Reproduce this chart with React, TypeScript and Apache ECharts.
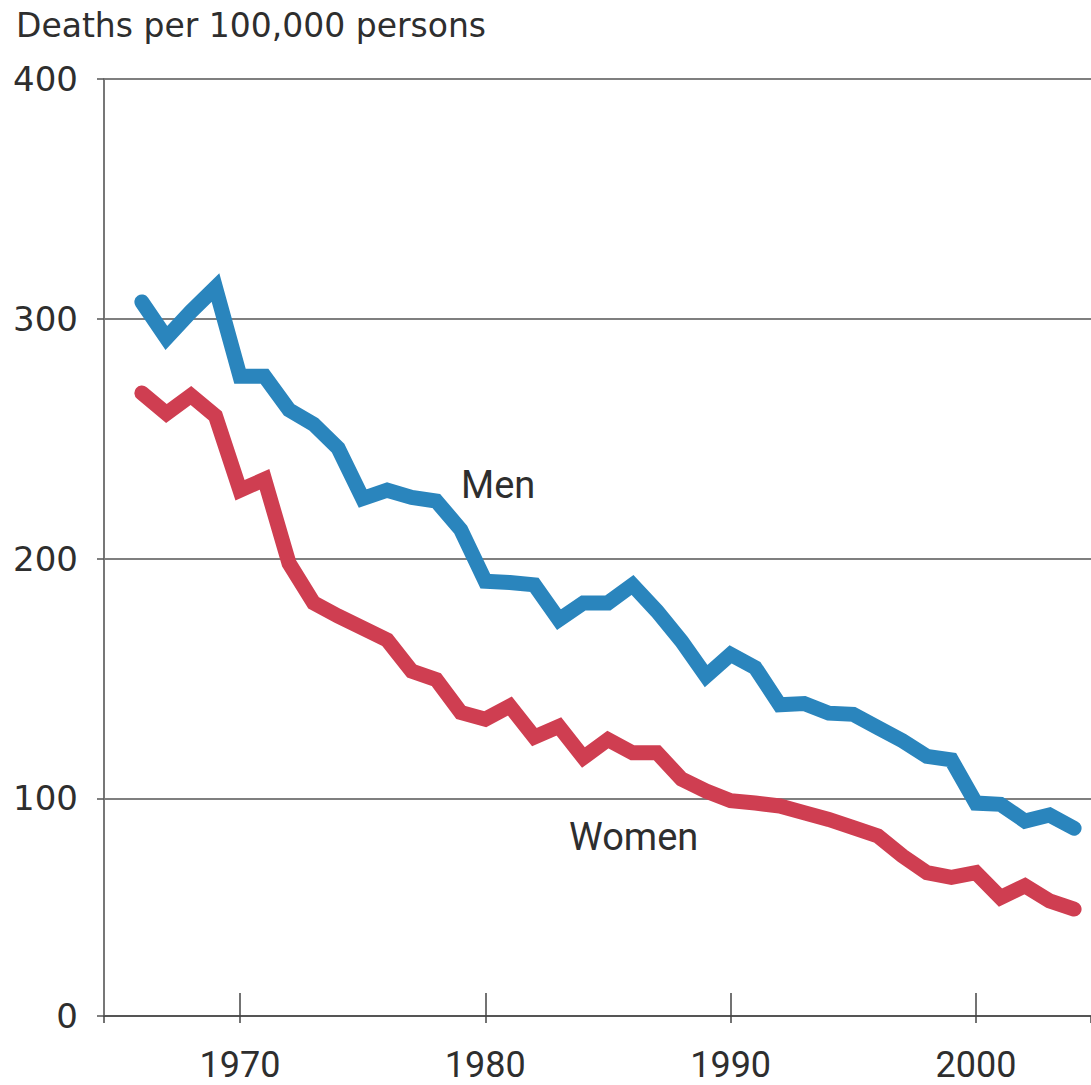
import React, { useEffect, useRef } from "react";
import * as echarts from "echarts";

const years = [
  1966, 1967, 1968, 1969, 1970, 1971, 1972, 1973, 1974, 1975, 1976, 1977, 1978,
  1979, 1980, 1981, 1982, 1983, 1984, 1985, 1986, 1987, 1988, 1989, 1990, 1991,
  1992, 1993, 1994, 1995, 1996, 1997, 1998, 1999, 2000, 2001, 2002, 2003, 2004,
];

const men = [
  307, 292, 303, 313, 276, 276, 262, 256, 246, 225, 228.5, 225.5, 224, 212,
  190.5, 190, 189, 174.5, 181.5, 181.5, 189, 178, 165.5, 151, 160, 154.5, 139,
  139.5, 135.5, 135, 129.5, 124, 117.5, 116, 98, 97.5, 90.5, 93, 87.5,
];

const women = [
  269, 260.5, 268, 259.5, 228.5, 233, 198, 181.5, 176, 171, 166, 153, 149.5,
  135.8, 133, 138.5, 125.5, 130, 117, 124.5, 119, 119, 108, 103, 99, 98, 96.8,
  94, 91.2, 87.8, 84.3, 76, 69, 67, 69, 58.6, 63.5, 57.2, 53.8,
];

const yTicks = [0, 100, 200, 300, 400];
const xTickYears = [1970, 1980, 1990, 2000];

const TITLE = "Deaths per 100,000 persons";
const MEN_LABEL = "Men";
const WOMEN_LABEL = "Women";

const BLUE = "#2a85bd";
const RED = "#cf3e51";
const TEXT = "#2e2e2e";

export default function App() {
  const ref = useRef<HTMLDivElement>(null);

  useEffect(() => {
    if (!ref.current) return;
    const chart = echarts.init(ref.current, null, { renderer: "svg" });

    const xMin = 1964.456;
    const xMax = 2004.69;
    const yMin = 9.2; // the drawn baseline of the original sits slightly above true zero
    const yMax = 400;

    const xLabel = (v: number) =>
      xTickYears.indexOf(Math.round(v)) >= 0 && Math.abs(v - Math.round(v)) < 1e-6
        ? String(Math.round(v))
        : "";
    const yLabel = (v: number) => {
      if (v < 50) return String(yTicks[0]);
      const r = Math.round(v);
      return yTicks.indexOf(r) >= 0 ? String(r) : "";
    };

    chart.setOption({
      animation: false,
      backgroundColor: "#ffffff",
      title: {
        text: TITLE,
        left: 11,
        top: 4,
        textStyle: {
          fontFamily: "DejaVu Sans",
          fontSize: 33,
          fontWeight: "normal",
          color: TEXT,
        },
      },
      grid: { left: 104, right: 0, top: 79, bottom: 69, containLabel: false },
      xAxis: [
        {
          type: "value",
          min: xMin,
          max: xMax,
          splitNumber: 4,
          axisLine: { show: true, onZero: false, lineStyle: { color: "#555", width: 2 } },
          axisTick: { show: true, inside: true, length: 23, lineStyle: { color: "#444", width: 1.5 } },
          axisLabel: {
            show: true,
            margin: 31,
            formatter: xLabel,
            fontFamily: "Roboto",
            fontSize: 36,
            color: TEXT,
            showMinLabel: false,
            showMaxLabel: false,
          },
          splitLine: { show: false },
        },
        {
          type: "value",
          min: xMin,
          max: xMax,
          splitNumber: 4,
          position: "bottom",
          axisLine: { show: false, onZero: false },
          axisTick: { show: true, inside: false, length: 7, lineStyle: { color: "#444", width: 1.5 } },
          axisLabel: { show: false },
          splitLine: { show: false },
        },
      ],
      yAxis: {
        type: "value",
        min: yMin,
        max: yMax,
        splitNumber: 4,
        axisLine: { show: true, lineStyle: { color: "#777", width: 2 } },
        axisTick: { show: true, inside: false, length: 7, lineStyle: { color: "#555", width: 1.5 } },
        axisLabel: {
          margin: 26,
          formatter: yLabel,
          fontFamily: "DejaVu Sans",
          fontSize: 34,
          color: TEXT,
        },
        splitLine: { show: true, lineStyle: { color: "#555", width: 1.5 } },
      },
      graphic: [
        {
          type: "text",
          left: 461,
          top: 466,
          style: {
            text: MEN_LABEL,
            font: "38px Roboto",
            fill: TEXT,
          },
        },
        {
          type: "text",
          left: 569,
          top: 818,
          style: {
            text: WOMEN_LABEL,
            font: "38px Roboto",
            fill: TEXT,
          },
        },
      ],
      series: [
        {
          name: MEN_LABEL,
          type: "line",
          xAxisIndex: 0,
          data: years.map((y, i) => [y, men[i]]),
          symbol: "none",
          lineStyle: { color: BLUE, width: 15, cap: "round", join: "miter" },
          z: 3,
        },
        {
          name: WOMEN_LABEL,
          type: "line",
          xAxisIndex: 0,
          data: years.map((y, i) => [y, women[i]]),
          symbol: "none",
          lineStyle: { color: RED, width: 15, cap: "round", join: "miter" },
          z: 3,
        },
      ],
    });

    return () => chart.dispose();
  }, []);

  return (
    <div
      ref={ref}
      style={{ position: "absolute", left: 0, top: 0, width: 1091, height: 1085 }}
    />
  );
}
